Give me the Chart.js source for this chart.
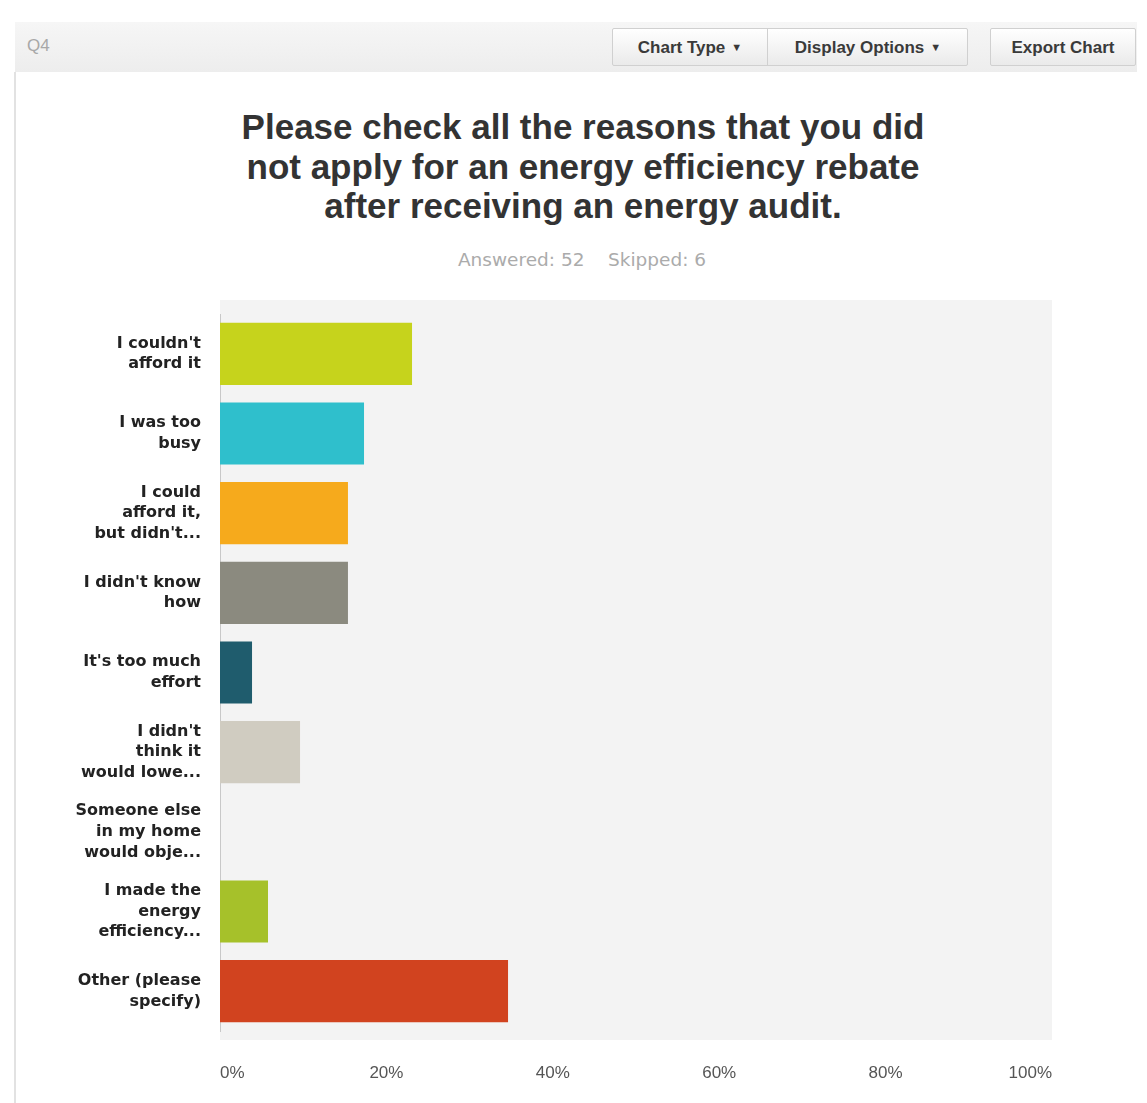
<!DOCTYPE html>
<html>
<head>
<meta charset="utf-8">
<title>Q4</title>
<script src="https://cdn.jsdelivr.net/npm/chart.js@4.4.0/dist/chart.umd.min.js"></script>
<style>
  html, body { margin: 0; padding: 0; background: #fff; }
  #page { position: relative; width: 1147px; height: 1103px; overflow: hidden; font-family: "Liberation Sans", Arial, sans-serif; }
  #chart { position: absolute; left: 0; top: 0; }
  .band { position: absolute; left: 15px; top: 22px; width: 1122px; height: 50px; background: linear-gradient(#f6f6f6, #ededed); }
  .frame { position: absolute; left: 14px; top: 72px; width: 2px; height: 1031px; background: #e2e2e2; }
  .qnum { position: absolute; left: 27px; top: 36px; font-size: 17px; color: #a8a8a8; }
  .btn { position: absolute; top: 28px; height: 38px; line-height: 38px; border: 1px solid #d0d0d0; border-radius: 2px;
         background: linear-gradient(#ffffff, #eaeaea); font-weight: bold; font-size: 17px; color: #3a3a3a; box-sizing: border-box; text-align: center; }
  .btn .caret { font-size: 11px; margin-left: 6px; vertical-align: 2px; }
  .sep { position: absolute; left: 767px; top: 29px; width: 1px; height: 36px; background: #d0d0d0; }
  .title { position: absolute; left: 0; width: 1166px; top: 107px; text-align: center; font-weight: bold; font-size: 35px; line-height: 39.5px; color: #333; }
  .subtitle { position: absolute; left: 0; width: 1164px; top: 250px; text-align: center; font-family: "DejaVu Sans", sans-serif; font-size: 18.5px; line-height: 20px; color: #ababab; white-space: pre; }
</style>
</head>
<body>
<div id="page">
  <div class="band"></div>
  <div class="frame"></div>
  <div class="qnum">Q4</div>
  <div class="btn" style="left:612px;width:356px;"></div>
  <div class="btn" style="left:612px;width:156px;border:none;background:none;">Chart Type<span class="caret">&#9660;</span></div>
  <div class="btn" style="left:768px;width:200px;border:none;background:none;">Display Options<span class="caret">&#9660;</span></div>
  <div class="sep"></div>
  <div class="btn" style="left:990px;width:146px;">Export Chart</div>
  <div class="title" id="title"></div>
  <div class="subtitle" id="subtitle"></div>
  <canvas id="chart" width="1147" height="1103"></canvas>
</div>
<script>
const titleLines = [
  'Please check all the reasons that you did',
  'not apply for an energy efficiency rebate',
  'after receiving an energy audit.'
];
const subtitleText = 'Answered: 52    Skipped: 6';

const categories = [
  ["I couldn't", 'afford it'],
  ['I was too', 'busy'],
  ['I could', 'afford it,', "but didn't..."],
  ["I didn't know", 'how'],
  ["It's too much", 'effort'],
  ["I didn't", 'think it', 'would lowe...'],
  ['Someone else', 'in my home', 'would obje...'],
  ['I made the', 'energy', 'efficiency...'],
  ['Other (please', 'specify)']
];

// percent of respondents
const percents = [23.08, 17.31, 15.38, 15.38, 3.85, 9.62, 0, 5.77, 34.62];

const barColors = [
  '#c6d31c', '#2fbfcc', '#f6aa1c', '#8b8a7f', '#1f5c6d',
  '#d0ccc1', '#b7c32a', '#a6c12a', '#d1431f'
];

const xTicks = ['0%', '20%', '40%', '60%', '80%', '100%'];

document.querySelector('#title').innerHTML = titleLines.join('<br>');
document.querySelector('#subtitle').textContent = subtitleText;

// light grey plot background like the survey tool
const plotBackground = {
  id: 'plotBackground',
  beforeDraw(chart) {
    const { ctx, chartArea } = chart;
    ctx.save();
    ctx.fillStyle = '#f3f3f3';
    ctx.fillRect(chartArea.left, chartArea.top - 14, chartArea.right - chartArea.left, chartArea.bottom - chartArea.top + 23);
    ctx.restore();
  }
};

const ctx = document.querySelector('#chart');

new Chart(ctx, {
  type: 'bar',
  data: {
    labels: categories,
    datasets: [{
      data: percents,
      backgroundColor: barColors,
      borderWidth: 0,
      barPercentage: 0.78,
      categoryPercentage: 1
    }]
  },
  options: {
    indexAxis: 'y',
    responsive: false,
    animation: false,
    layout: {
      padding: { top: 314, right: 95, bottom: 0, left: 15 }
    },
    plugins: {
      legend: { display: false },
      tooltip: { enabled: false }
    },
    scales: {
      x: {
        min: 0,
        max: 100,
        ticks: {
          stepSize: 20,
          align: 'inner',
          padding: 32,
          color: '#555',
          font: { family: '"Liberation Sans", Arial, sans-serif', size: 17 },
          callback: (value, index) => xTicks[index]
        },
        grid: { display: false, drawTicks: false },
        border: { display: false },
        afterFit(scale) { scale.height = 72; }
      },
      y: {
        ticks: {
          padding: 19,
          color: '#222',
          font: { family: '"DejaVu Sans", sans-serif', size: 16, weight: 'bold', lineHeight: 1.3 }
        },
        grid: { display: false, drawTicks: false },
        border: { display: true, color: '#c8c8c8', width: 1 },
        afterFit(scale) { scale.width = 205; }
      }
    }
  },
  plugins: [plotBackground]
});
</script>
</body>
</html>
